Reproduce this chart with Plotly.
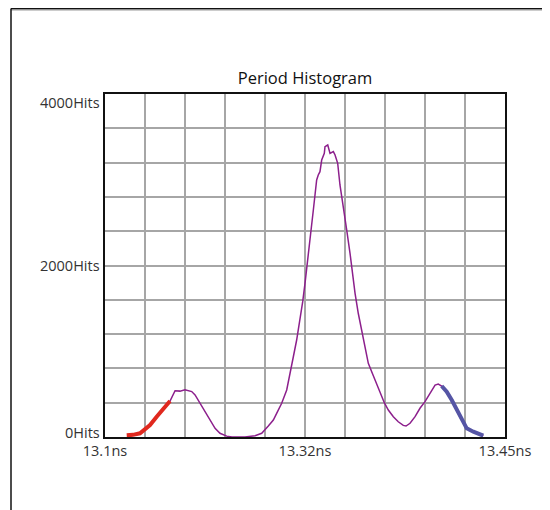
import plotly.graph_objects as go

# ---- data ----
time_ns = [13.1190, 13.1245, 13.1306, 13.1350, 13.1394, 13.1452, 13.1510, 13.1569,
           13.1613, 13.1656, 13.1700, 13.1726, 13.1759, 13.1788, 13.1831, 13.1875,
           13.1919, 13.1963, 13.2006, 13.2065, 13.2111, 13.2225, 13.2313, 13.2371,
           13.2429, 13.2473, 13.2502, 13.2546, 13.2590, 13.2619, 13.2648, 13.2677,
           13.2706, 13.2730, 13.2750, 13.2765, 13.2779, 13.2803, 13.2823, 13.2838,
           13.2852, 13.2866, 13.2881, 13.2896, 13.2919, 13.2925, 13.2949, 13.2969,
           13.2998, 13.3013, 13.3036, 13.3056, 13.3085, 13.3115, 13.3144, 13.3164,
           13.3188, 13.3216, 13.3246, 13.3275, 13.3304, 13.3339, 13.3377, 13.3406,
           13.3444, 13.3479, 13.3523, 13.3566, 13.3610, 13.3634, 13.3669, 13.3713,
           13.3756, 13.3800, 13.3844, 13.3888, 13.3916, 13.3946, 13.3990, 13.4034,
           13.4077, 13.4121, 13.4165, 13.4223, 13.4281, 13.4310]
hits = [20, 25, 43, 85, 140, 237, 335, 420,
        540, 535, 550, 545, 530, 490, 393, 295,
        198, 101, 43, 10, 0, 0, 15, 43,
        128, 198, 276, 393, 548, 723, 936, 1131,
        1364, 1578, 1792, 1986, 2181, 2414, 2647, 2802,
        2997, 3055, 3094, 3230, 3308, 3386, 3405, 3308,
        3328, 3289, 3192, 2939, 2706, 2414, 2142, 1909,
        1676, 1443, 1248, 1053, 859, 743, 626, 530,
        400, 315, 237, 178, 135, 128, 160, 237,
        335, 412, 510, 606, 618, 595, 529, 431,
        315, 198, 101, 62, 31, 15]

x_tickvals = [13.1 + i * 0.035 for i in range(11)]
x_ticktext = ["13.1ns", "", "", "", "", "13.32ns", "", "", "", "", "13.45ns"]
y_tickvals = [i * 400 for i in range(11)]
y_labelvals = [0, 2000, 4000]
y_labeltext = ["0Hits", "2000Hits", "4000Hits"]

RED_END = 13.157
BLUE_START = 13.3946

red_x = [t for t in time_ns if t <= RED_END]
red_y = [h for t, h in zip(time_ns, hits) if t <= RED_END]
pur_x = [t for t in time_ns if t >= 13.1510]
pur_y = [h for t, h in zip(time_ns, hits) if t >= 13.1510]
blue_x = [t for t in time_ns if t >= BLUE_START]
blue_y = [h for t, h in zip(time_ns, hits) if t >= BLUE_START]

fig = go.Figure()
fig.add_trace(go.Scatter(x=pur_x, y=pur_y, mode="lines",
                         line=dict(color="#8c1f8c", width=1.5),
                         hoverinfo="skip"))
fig.add_trace(go.Scatter(x=red_x, y=red_y, mode="lines",
                         line=dict(color="#e0281e", width=4),
                         hoverinfo="skip"))
fig.add_trace(go.Scatter(x=blue_x, y=blue_y, mode="lines",
                         line=dict(color="#5555a5", width=4),
                         hoverinfo="skip"))

OFF = 8  # page body margin
W, H = 550 - OFF, 510 - OFF
L, T = 105 - OFF, 94 - OFF
R = W - (505 - OFF)
B = H - (437 - OFF)
pw, ph = W - L - R, H - T - B

def px_x(p):
    return (p - OFF - L) / pw

def px_y(p):
    return (H - B - (p - OFF)) / ph

y_shift = {0: 5, 2000: 0, 4000: -8}
annotations = [
    dict(xref="paper", yref="y", x=0, y=v, text=t, showarrow=False,
         xanchor="right", yanchor="middle", xshift=-3, yshift=y_shift[v],
         font=dict(family="Open Sans", size=14.5, color="#333333"))
    for v, t in zip(y_labelvals, y_labeltext)
]

fig.update_layout(
    width=W, height=H,
    margin=dict(l=L, r=R, t=T, b=B, pad=0, autoexpand=False),
    paper_bgcolor="white", plot_bgcolor="white",
    showlegend=False,
    font=dict(family="Open Sans", size=14.5, color="#333333"),
    title=dict(text="Period Histogram", xref="container", x=(305 - OFF) / W,
               xanchor="center", yref="container",
               y=1 - (78 - OFF) / H, yanchor="middle", automargin=False,
               font=dict(family="Open Sans", size=16.5, color="#111111")),
    xaxis=dict(range=[13.1, 13.45], tickvals=x_tickvals, ticktext=x_ticktext,
               showgrid=True, gridcolor="#a6a6a6", gridwidth=1.5,
               showline=True, linecolor="#111111", linewidth=2, mirror=True,
               ticks="", zeroline=False, fixedrange=True, automargin=False,
               tickfont=dict(size=14.5, color="#333333")),
    yaxis=dict(range=[0, 4000], tickvals=y_tickvals, showticklabels=False,
               showgrid=True, gridcolor="#a6a6a6", gridwidth=1.5,
               showline=True, linecolor="#111111", linewidth=2, mirror=True,
               ticks="", zeroline=False, fixedrange=True, automargin=False),
    annotations=annotations,
    shapes=[
        dict(type="line", xref="paper", yref="paper",
             x0=px_x(11), x1=px_x(560), y0=px_y(8.5), y1=px_y(8.5),
             line=dict(color="#111111", width=2)),
        dict(type="line", xref="paper", yref="paper",
             x0=px_x(11), x1=px_x(560), y0=px_y(10), y1=px_y(10),
             line=dict(color="#999999", width=1)),
        dict(type="line", xref="paper", yref="paper",
             x0=px_x(11), x1=px_x(11), y0=px_y(8.5), y1=px_y(520),
             line=dict(color="#111111", width=1.5)),
    ],
)

fig.write_html("out.html")
